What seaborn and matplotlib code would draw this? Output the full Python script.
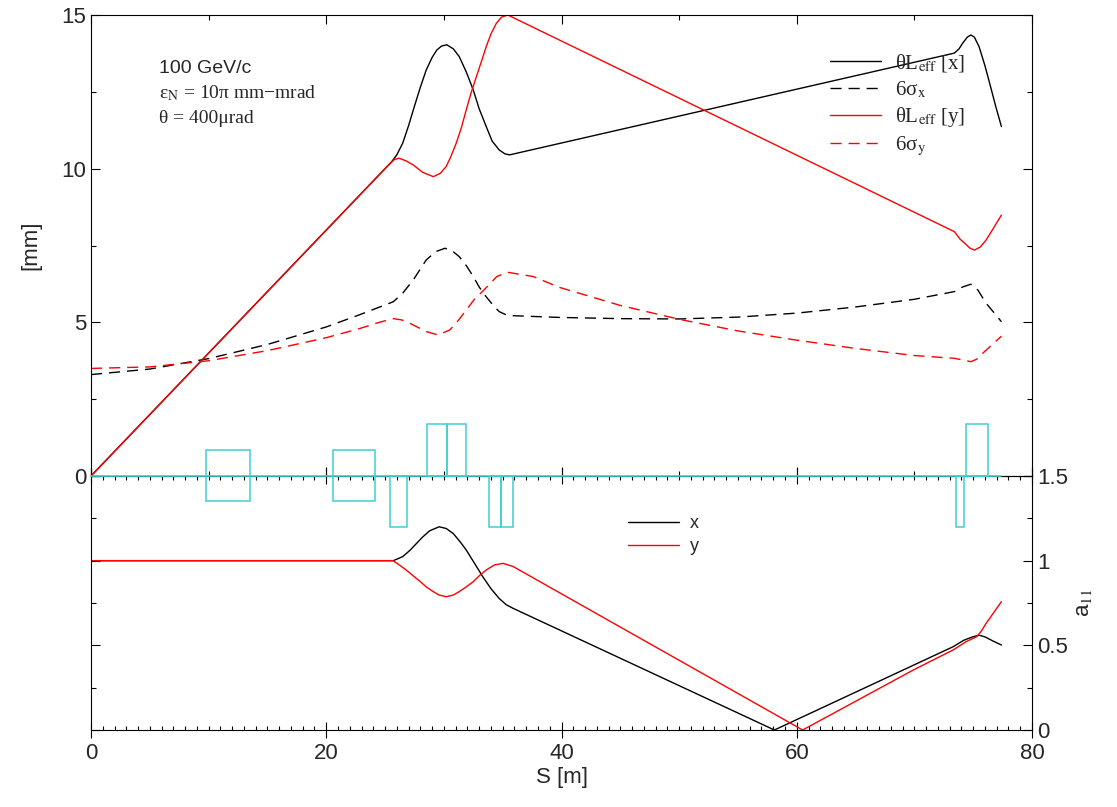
import numpy as np
import pandas as pd
import matplotlib
matplotlib.use("Agg")
import matplotlib.pyplot as plt
import seaborn as sns
from matplotlib.ticker import MultipleLocator, FuncFormatter
from matplotlib.patches import Rectangle
from matplotlib.lines import Line2D

# ---------------- data ----------------
s_Lx = [0, 25.57, 26.0, 26.5, 27.0, 27.4, 28.0, 28.5, 29.0, 29.4, 29.8, 30.25, 30.8, 31.3,
        31.9, 32.5, 33.0, 33.6, 34.1, 34.7, 35.2, 35.6, 73.4, 73.8, 74.1, 74.5, 74.8, 75.1,
        75.5, 76.0, 76.4, 76.9, 77.4]
Lx = [0, 10.23, 10.45, 10.83, 11.4, 11.91, 12.65, 13.21, 13.62, 13.86, 13.99, 14.03, 13.9, 13.65,
      13.15, 12.56, 11.95, 11.37, 10.9, 10.61, 10.48, 10.45, 13.76, 13.9, 14.08, 14.28, 14.35, 14.28,
      13.97, 13.35, 12.78, 12.05, 11.37]

s_Ly = [0, 25.3, 25.8, 26.2, 26.8, 27.4, 28.2, 29.1, 29.7, 30.2, 30.6, 31.05, 31.5, 31.9, 32.3,
        32.76, 33.2, 33.6, 34.0, 34.46, 34.9, 35.44, 73.4, 73.9, 74.3, 74.7, 75.1, 75.6, 76.1,
        76.7, 77.4]
Ly = [0, 10.12, 10.3, 10.34, 10.25, 10.12, 9.88, 9.74, 9.85, 10.07, 10.4, 10.83, 11.35, 11.91, 12.45,
      12.99, 13.5, 13.97, 14.38, 14.73, 14.93, 15.0, 7.95, 7.7, 7.57, 7.42, 7.35, 7.45, 7.68,
      8.05, 8.49]

s_sx = [0, 5, 10, 15, 20, 22.86, 25.7, 26.5, 27.4, 28.5, 29.3, 30.1, 30.7, 31.3, 31.9, 32.5,
        33.0, 33.6, 34.2, 34.7, 35.2, 35.6, 39.8, 45, 50, 55, 60, 65, 70, 73.4, 74.1, 74.8,
        75.4, 76.1, 76.8, 77.4]
sig_x = [3.30, 3.48, 3.82, 4.28, 4.85, 5.25, 5.67, 5.95, 6.38, 7.03, 7.3, 7.41, 7.33, 7.14, 6.85, 6.49,
         6.15, 5.83, 5.55, 5.35, 5.26, 5.22, 5.16, 5.12, 5.11, 5.17, 5.3, 5.5, 5.75, 6.0, 6.15, 6.24,
         6.05, 5.62, 5.3, 5.02]

s_sy = [0, 5, 10, 15, 20, 22.86, 24.5, 25.7, 26.4, 27.1, 28.5, 29.5, 30.5, 31.2, 31.9, 32.6,
        33.4, 34.5, 35.4, 37.6, 39.8, 45, 50, 55, 60, 65, 70, 73.4, 74.8, 75.3, 75.8, 77.4]
sig_y = [3.50, 3.55, 3.75, 4.08, 4.5, 4.8, 5.0, 5.12, 5.08, 4.97, 4.7, 4.59, 4.75, 5.05, 5.4, 5.75,
         6.05, 6.49, 6.63, 6.49, 6.14, 5.55, 5.1, 4.72, 4.42, 4.15, 3.92, 3.83, 3.72, 3.8, 3.99, 4.55]

s_ax = [0, 25.7, 26.5, 27.1, 27.65, 28.2, 28.8, 29.6, 30.2, 30.8, 31.4, 31.9, 32.6, 33.3, 34.0,
        34.7, 35.3, 35.9, 58.1, 73.3, 74.2, 75.0, 75.5, 76.0, 76.7, 77.4]
a11_x = [1.0, 1.0, 1.024, 1.06, 1.10, 1.14, 1.177, 1.20, 1.19, 1.16, 1.11, 1.063, 0.985, 0.906, 0.835,
         0.777, 0.74, 0.718, 0.0, 0.492, 0.53, 0.551, 0.56, 0.55, 0.525, 0.502]

s_ay = [0, 25.7, 26.2, 26.8, 27.4, 28.0, 28.5, 29.1, 29.6, 30.2, 30.8, 31.3, 31.9, 32.5, 33.0,
        33.6, 34.3, 35.05, 35.9, 60.5, 69.9, 73.3, 74.4, 75.3, 75.7, 76.1, 77.4]
a11_y = [1.0, 1.0, 0.975, 0.945, 0.91, 0.876, 0.845, 0.817, 0.797, 0.787, 0.797, 0.817, 0.845, 0.876,
         0.91, 0.945, 0.975, 0.984, 0.965, 0.0, 0.354, 0.473, 0.522, 0.551, 0.585, 0.63, 0.758]

# lattice elements: start, end [m], kind (Q = quadrupole, '+'/'-' = dipole above/below)
elem_start = [9.81, 20.54, 25.39, 28.54, 30.24, 33.81, 34.83, 73.50, 74.38]
elem_end   = [13.56, 24.11, 26.83, 30.24, 31.91, 34.83, 35.89, 74.24, 76.23]
elem_kind  = ["Q", "Q", "-", "+", "+", "-", "-", "-", "+"]
lattice_end = 77.4

top_legend = ["θL$_\\mathrm{eff}$ [x]", "6σ$_\\mathrm{x}$", "θL$_\\mathrm{eff}$ [y]", "6σ$_\\mathrm{y}$"]
bot_legend = ["x", "y"]
x_ticks = [0, 20, 40, 60, 80]

# ---------------- style ----------------
sns.set_theme(style="ticks")
plt.rcParams["font.family"] = ["Liberation Sans", "DejaVu Sans"]
plt.rcParams["mathtext.fontset"] = "stix"
plt.rcParams["axes.linewidth"] = 0.8

RED = "#ff0000"
CYAN = "#40d0d0"
W, H = 1117, 807
fig = plt.figure(figsize=(W / 100, H / 100), dpi=100)
L, R = 91, 1032
ax1 = fig.add_axes([L / W, 1 - 476 / H, (R - L) / W, (476 - 15) / H])
ax2 = fig.add_axes([L / W, 1 - 730 / H, (R - L) / W, (730 - 476) / H])
ax1.set_zorder(3)
ax1.patch.set_alpha(0)

lw = 1.0
sns.lineplot(x=s_Lx, y=Lx, ax=ax1, color="black", lw=lw, estimator=None, sort=False)
sns.lineplot(x=s_sx, y=sig_x, ax=ax1, color="black", lw=lw, estimator=None, sort=False)
ax1.lines[-1].set_dashes((8, 5))
sns.lineplot(x=s_Ly, y=Ly, ax=ax1, color=RED, lw=lw, estimator=None, sort=False)
sns.lineplot(x=s_sy, y=sig_y, ax=ax1, color=RED, lw=lw, estimator=None, sort=False)
ax1.lines[-1].set_dashes((8, 5))

sns.lineplot(x=s_ax, y=a11_x, ax=ax2, color="black", lw=lw, estimator=None, sort=False)
sns.lineplot(x=s_ay, y=a11_y, ax=ax2, color=RED, lw=lw, estimator=None, sort=False)

# lattice drawing on the boundary between the panels (in mm units of upper panel)
ax1.plot([0, lattice_end], [0, 0], color=CYAN, lw=1.2, clip_on=False, zorder=4)
for s0, s1, k in zip(elem_start, elem_end, elem_kind):
    if k == "Q":
        y0, h = -0.82, 1.66
    elif k == "+":
        y0, h = 0, 1.69
    else:
        y0, h = -1.66, 1.66
    ax1.add_patch(Rectangle((s0, y0), s1 - s0, h, fill=False, edgecolor=CYAN,
                            lw=1.1, clip_on=False, zorder=4))

# axes limits & ticks
for ax in (ax1, ax2):
    ax.set_xlim(0, 80)
    ax.set_xlabel("")
    for sp in ax.spines.values():
        sp.set_visible(True)
        sp.set_color("black")
        sp.set_linewidth(0.8)

ax1.set_ylim(0, 15)
ax1.yaxis.set_major_locator(MultipleLocator(5))
ax1.yaxis.set_minor_locator(MultipleLocator(2.5))
ax1.xaxis.set_major_locator(MultipleLocator(20))
ax1.xaxis.set_minor_locator(MultipleLocator(10))
ax1.tick_params(which="both", direction="in", top=True, right=True, bottom=True, left=True,
                labelbottom=False, labelsize=16, color="black", width=0.8)
ax1.tick_params(which="major", length=6.5)
ax1.tick_params(which="minor", length=3.5)
ax1.set_ylabel("[mm]", fontsize=16, labelpad=14)

ax2.set_ylim(0, 1.5)
ax2.set_xticks(x_ticks)
ax2.xaxis.set_minor_locator(MultipleLocator(1))
ax2.yaxis.set_major_locator(MultipleLocator(0.5))
ax2.yaxis.set_minor_locator(MultipleLocator(0.25))
ax2.yaxis.set_major_formatter(FuncFormatter(lambda v, p: f"{v:g}"))
ax2.tick_params(which="both", top=True, right=True, left=True, bottom=True,
                labelleft=False, labelright=True, labelsize=16, color="black", width=0.8)
ax2.tick_params(axis="x", which="major", direction="inout", length=12)
ax2.tick_params(axis="x", which="minor", direction="in", length=3)
ax2.tick_params(axis="y", which="major", direction="in", length=6.5)
ax2.tick_params(axis="y", which="minor", direction="in", length=3.5)
ax2.set_xlabel("S [m]", fontsize=16, labelpad=2)
ax2.yaxis.set_label_position("right")
ax2.set_ylabel("a$_{11}$", fontsize=16, labelpad=4, rotation=90)

# legends
h_top = [Line2D([], [], color="black", lw=lw),
         Line2D([], [], color="black", lw=lw, dashes=(8, 5)),
         Line2D([], [], color=RED, lw=lw),
         Line2D([], [], color=RED, lw=lw, dashes=(8, 5))]
leg1 = ax1.legend(h_top, top_legend, loc="upper left", bbox_to_anchor=(830 / W, 1 - 52 / H),
                  bbox_transform=fig.transFigure, frameon=False, borderpad=0, borderaxespad=0,
                  handlelength=2.45, handletextpad=0.65, labelspacing=0.25,
                  prop={"family": "Liberation Serif", "size": 15})

h_bot = [Line2D([], [], color="black", lw=lw), Line2D([], [], color=RED, lw=lw)]
leg2 = ax2.legend(h_bot, bot_legend, loc="upper left", bbox_to_anchor=(628 / W, 1 - 515 / H),
                  bbox_transform=fig.transFigure, frameon=False, borderpad=0, borderaxespad=0,
                  handlelength=2.8, handletextpad=0.65, labelspacing=0.35,
                  prop={"family": "Liberation Sans", "size": 13})

# annotation text
fig.text(159 / W, 1 - 73 / H, "100 GeV/c", fontsize=14, family="Liberation Sans", va="baseline")
fig.text(159 / W, 1 - 98 / H, "ε$_\\mathrm{N}$ = 10π mm−mrad", fontsize=14,
         family="Liberation Serif", va="baseline")
fig.text(159 / W, 1 - 123 / H, "θ = 400μrad", fontsize=14, family="Liberation Serif", va="baseline")

fig.savefig("out.png", dpi=100, facecolor="white")
